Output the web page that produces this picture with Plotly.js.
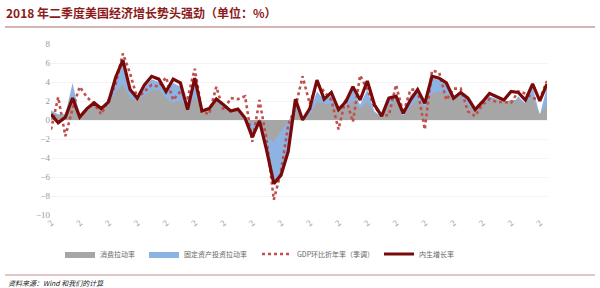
<!DOCTYPE html>
<html>
<head>
<meta charset="utf-8">
<script src="https://cdn.plot.ly/plotly-3.0.1.min.js"></script>
<style>html,body{margin:0;padding:0;background:#fff;}#chart{width:600px;height:288px;}</style>
</head>
<body>
<div id="chart"></div>
<script>
// Quarters 2001Q1 .. 2018Q2
const years = [2001,2002,2003,2004,2005,2006,2007,2008,2009,2010,2011,2012,2013,2014,2015,2016,2017,2018];
const quarters = [];
years.forEach(function(y){ for (let q=1;q<=4;q++){ if (!(y===2018 && q>2)) quarters.push(y+"Q"+q); } });

// 消费拉动率 (grey area)
const consumption = [0.9,0.4,0.5,1.75,0.4,1.1,1.6,1.2,1.6,3.0,3.8,2.3,2.1,2.6,3.1,3.2,2.3,1.8,2.1,1.05,
  2.5,0.9,1.05,1.9,1.2,0.95,1.1,0.1,-0.35,-0.2,-1.9,-2.3,-1.2,-0.2,1.0,0.2,0.5,1.9,1.75,1.6,
  1.05,1.2,2.1,1.2,1.9,0.7,0.35,1.6,2.1,0.4,1.4,2.1,1.4,2.8,3.0,2.8,2.3,2.5,1.6,0.9,
  1.6,2.3,2.1,1.9,2.1,2.1,1.75,2.45,0.6,1.6];
// 固定资产投资拉动率 (blue area, top edge)
const investment = [1.0,0.6,0.6,3.9,0.5,1.2,1.8,1.2,1.9,4.0,6.0,3.0,2.3,3.4,4.3,4.0,2.8,3.9,3.5,1.2,
  3.9,1.0,1.3,2.3,1.7,1.0,1.2,0.2,-1.7,0.2,-3.0,-6.5,-5.6,-3.1,2.0,0.1,0.9,3.0,2.1,2.6,
  1.2,1.6,3.2,1.6,3.2,0.9,0.35,2.2,2.5,0.5,2.6,3.2,1.6,4.4,4.2,3.7,2.3,2.8,2.1,1.1,
  1.9,2.5,2.2,1.9,1.4,2.5,1.75,3.5,0.5,3.5];
// GDP环比折年率（季调）
const gdpSaar = [-1.0,2.4,-1.7,1.2,3.5,2.4,1.7,0.6,2.1,3.8,7.0,4.9,2.3,3.0,3.7,3.5,4.5,2.1,3.0,2.3,
  5.4,0.9,0.6,3.5,1.0,2.3,2.2,2.5,-2.3,2.1,-2.1,-8.4,-5.4,-0.5,1.3,4.6,1.7,3.9,3.0,2.1,
  -1.0,2.3,-0.2,4.7,3.2,1.4,0.5,0.5,3.7,0.7,3.2,3.2,-1.0,5.2,5.0,2.1,3.3,3.3,0.9,0.4,
  1.6,2.2,1.9,1.9,1.8,3.0,2.8,2.3,2.2,4.1];
// 内生增长率
const endogenous = [0.6,-0.3,0.3,2.3,0.3,1.2,1.8,1.2,1.9,4.5,6.3,3.2,2.3,3.7,4.6,4.3,3.0,4.3,3.9,1.1,
  4.4,0.95,1.2,2.2,1.6,0.95,1.15,0.2,-1.8,-0.1,-3.2,-6.7,-5.8,-3.3,2.2,0.0,1.2,4.2,2.2,2.9,
  1.1,1.9,3.5,2.1,4.1,1.6,0.4,2.3,2.5,0.7,2.1,3.2,1.75,4.6,4.4,3.9,2.3,2.9,2.3,1.1,
  1.9,2.8,2.45,2.1,3.0,2.9,2.1,3.8,2.0,3.8];

const tickCats = quarters.filter(function(q,i){ return i%4===0; });
const tickLabels = tickCats.map(function(){ return "2"; });
const yTicks = [-10,-8,-6,-4,-2,0,2,4,6,8];

const cjk = "'Noto Sans CJK SC', 'Noto Sans', sans-serif";
const serifNum = "'Liberation Serif', 'DejaVu Serif', serif";

const traces = [
  {x: quarters, y: investment, type:'scatter', mode:'lines', fill:'tozeroy',
   fillcolor:'#8db3e2', line:{width:0, color:'#8db3e2'}, name:'固定资产投资拉动率', legend:'legend2'},
  {x: quarters, y: consumption, type:'scatter', mode:'lines', fill:'tozeroy',
   fillcolor:'#a6a6a6', line:{width:0, color:'#a6a6a6'}, name:'消费拉动率', legend:'legend'},
  {x: quarters, y: gdpSaar, type:'scatter', mode:'lines', line:{width:2.6, color:'#c0504d', dash:'dot'},
   name:'GDP环比折年率（季调）', legend:'legend3'},
  {x: quarters, y: endogenous, type:'scatter', mode:'lines', line:{width:3.2, color:'#7a0a0a'},
   name:'内生增长率', legend:'legend4'}
];

function leg(xpx){
  return {orientation:'h', x:(xpx-51)/496, xanchor:'left', y:(215-254)/171, yanchor:'middle',
          font:{family:cjk, size:7, color:'#666'}, bgcolor:'rgba(0,0,0,0)', traceorder:'normal'};
}

const layout = {
  width:600, height:288,
  margin:{l:51, r:53, t:44, b:73},
  paper_bgcolor:'#fff', plot_bgcolor:'#fff',
  showlegend:true,
  title:{text:'2018 年二季度美国经济增长势头强劲（单位：%）', x:6/600, xref:'container', xanchor:'left',
         y:1-14/288, yref:'container', yanchor:'middle',
         font:{family:cjk, size:12, color:'#8b1a1a', weight:'bold'}},
  xaxis:{type:'category', range:[0, quarters.length-1], tickmode:'array', tickvals:tickCats, ticktext:tickLabels,
         tickangle:-45, tickfont:{family:serifNum, size:9, color:'#999'}, showgrid:false, zeroline:false,
         showline:false, ticks:''},
  xaxis2:{type:'linear', overlaying:'x', anchor:'free', position:10/18, range:[0, quarters.length-1],
          tickmode:'array', tickvals:tickCats.map(function(c){return quarters.indexOf(c);}),
          showticklabels:false, ticks:'outside', ticklen:3, tickcolor:'#c8c8c8', showline:true,
          linecolor:'#d0d0d0', linewidth:1, showgrid:false, zeroline:false},
  yaxis:{range:[-10,8], tickmode:'array', tickvals:yTicks, tickfont:{family:serifNum, size:9, color:'#999'},
         showgrid:true, gridcolor:'#f3f3f3', zeroline:false, showline:false, ticks:''},
  yaxis2:{range:[-10,8], overlaying:'y', side:'right', tickmode:'array', tickvals:yTicks,
          tickfont:{family:serifNum, size:9, color:'#999'}, showgrid:false, zeroline:false, showline:false, ticks:''},
  legend: leg(60),
  legend2: leg(144),
  legend3: leg(257),
  legend4: leg(379),
  shapes:[
    {type:'line', xref:'paper', yref:'paper', x0:(5-51)/496, x1:(595-51)/496, y0:(215-27)/171, y1:(215-27)/171,
     line:{color:'#a86a6a', width:1}},
    {type:'line', xref:'paper', yref:'paper', x0:(5-51)/496, x1:(595-51)/496, y0:(215-275)/171, y1:(215-275)/171,
     line:{color:'#c49090', width:1}}
  ],
  annotations:[
    {text:'资料来源：Wind 和我们的计算', xref:'paper', yref:'paper', x:(6-51)/496, y:(215-283)/171,
     xanchor:'left', yanchor:'middle', showarrow:false,
     font:{family:cjk, size:7, color:'#222', style:'italic'}}
  ]
};

Plotly.newPlot('chart', traces, layout, {displayModeBar:false, staticPlot:true});
</script>
</body>
</html>
